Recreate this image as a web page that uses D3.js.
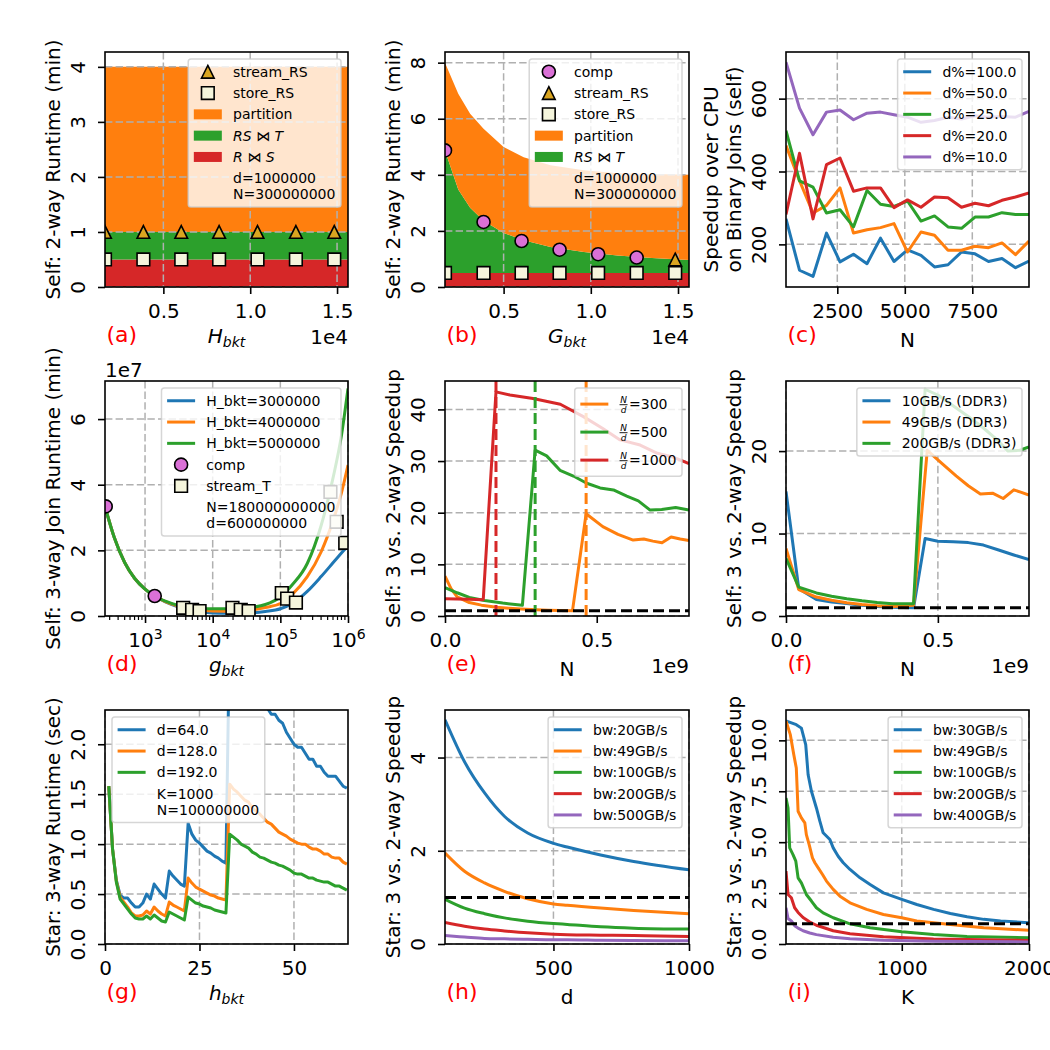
<!DOCTYPE html>
<html lang="en">
<head>
<meta charset="utf-8">
<script src="https://d3js.org/d3.v7.min.js"></script>
<style>
body { margin: 0; background: #fff; overflow: hidden; }
svg { display: block; }
svg text { font-family: "DejaVu Sans", sans-serif; fill: #000; }
</style>
</head>
<body>
<svg id="fig" width="1050" height="1050"></svg>
<script>
// ---------- data ----------
// (a) stacked runtime vs H_bkt
var aX = [1640, 15630];
var aRS = [0.5, 0.5];
var aRST = [0.5, 0.5];
var aPart = [3.0, 3.0];
var markX = [1640, 3850, 6030, 8210, 10420, 12630, 14840];
var aStreamRS = [1.0, 1.0, 1.0, 1.0, 1.0, 1.0, 1.0];
var storeRS = [0.5, 0.5, 0.5, 0.5, 0.5, 0.5, 0.5];

// (b) stacked runtime vs G_bkt
var bX = [1640, 2400, 3080, 3850, 5000, 6150, 7690, 9600, 11530, 13500, 15630];
var bRS = [0.5, 0.5, 0.5, 0.5, 0.5, 0.5, 0.5, 0.5, 0.5, 0.5, 0.5];
var bRST = [4.37, 2.98, 2.33, 1.86, 1.43, 1.17, 0.93, 0.75, 0.62, 0.53, 0.46];
var bPart = [3.13, 3.41, 3.35, 3.28, 3.06, 2.96, 2.91, 2.91, 2.94, 3.0, 3.04];
var bCompX = [1640, 3850, 6030, 8210, 10420, 12630];
var bComp = [4.87, 2.32, 1.64, 1.33, 1.17, 1.05];
var bStreamX = [14840];
var bStreamRS = [0.98];

// (c) speedup over CPU
var cN = [600, 1100, 1600, 2100, 2600, 3100, 3600, 4100, 4600, 5100, 5600, 6100, 6600, 7100, 7600, 8100, 8600, 9100, 9600];
var c100 = [270, 129, 112, 231, 152, 173, 147, 217, 153, 185, 170, 138, 144, 179, 174, 153, 161, 136, 154];
var c50 = [471, 375, 286, 307, 355, 231, 240, 246, 257, 179, 234, 225, 184, 184, 195, 191, 204, 172, 209];
var c25 = [512, 374, 357, 286, 295, 248, 348, 310, 304, 319, 264, 278, 248, 244, 275, 275, 287, 282, 282];
var c20 = [282, 450, 270, 419, 437, 346, 355, 355, 301, 322, 302, 330, 328, 302, 313, 306, 321, 330, 341];
var c10 = [700, 574, 501, 563, 569, 542, 560, 563, 556, 549, 535, 540, 549, 544, 553, 549, 551, 549, 565];
var cLabels = ["d%=100.0", "d%=50.0", "d%=25.0", "d%=20.0", "d%=10.0"];

// (d) 3-way join runtime vs g_bkt (units of 1e7)
var dX = [256, 350, 500, 700, 1000, 1400, 2000, 3000, 4500, 7000, 10000, 15000, 25000, 40000, 60000, 100000, 150000, 250000, 400000, 600000, 800000, 1000000];
var dH3 = [3.34, 2.4, 1.63, 1.15, 0.82, 0.6, 0.43, 0.29, 0.2, 0.12, 0.09, 0.08, 0.085, 0.1, 0.14, 0.22, 0.38, 0.75, 1.2, 1.62, 1.92, 2.15];
var dH4 = [3.34, 2.4, 1.63, 1.15, 0.82, 0.6, 0.44, 0.31, 0.24, 0.18, 0.15, 0.145, 0.15, 0.19, 0.26, 0.38, 0.66, 1.2, 1.95, 2.9, 3.75, 4.6];
var dH5 = [3.34, 2.4, 1.63, 1.15, 0.82, 0.6, 0.45, 0.33, 0.27, 0.23, 0.22, 0.22, 0.23, 0.27, 0.35, 0.58, 0.95, 1.6, 2.75, 4.2, 5.5, 6.93];
var dCompX = [262, 1390];
var dComp = [3.34, 0.61];
var dStreamX = [3660, 4960, 6400, 19600, 26000, 34000, 105000, 126000, 170000, 550000, 680000, 910000];
var dStream = [0.25, 0.19, 0.15, 0.25, 0.19, 0.15, 0.70, 0.53, 0.41, 3.78, 2.87, 2.23];

// (e) self speedup vs N (units of 1e9)
var eX300 = [0, 0.02, 0.04, 0.08, 0.12, 0.17, 0.21, 0.25, 0.3, 0.34, 0.38, 0.42, 0.465, 0.52, 0.57, 0.62, 0.655, 0.685, 0.715, 0.745, 0.775, 0.804];
var e300 = [7.7, 5.3, 3.7, 2.6, 2.1, 1.7, 1.5, 1.35, 1.2, 1.1, 1.05, 1.0, 19.8, 17.3, 15.8, 14.7, 14.9, 14.5, 14.2, 15.3, 14.9, 14.6];
var eX500 = [0, 0.04, 0.08, 0.13, 0.19, 0.255, 0.297, 0.335, 0.379, 0.423, 0.467, 0.511, 0.555, 0.599, 0.637, 0.676, 0.714, 0.76, 0.804];
var e500 = [5.5, 4.5, 3.6, 3.0, 2.5, 2.07, 32.1, 31.0, 28.2, 27.1, 25.7, 24.8, 24.4, 23.2, 22.3, 20.5, 20.6, 21.0, 20.5];
var eX1000 = [0, 0.04, 0.08, 0.126, 0.168, 0.214, 0.29, 0.38, 0.456, 0.52, 0.577, 0.643, 0.70, 0.75, 0.804];
var e1000 = [3.36, 3.3, 3.25, 3.17, 43.4, 42.8, 42.1, 41.0, 38.6, 36.3, 34.1, 33.1, 31.5, 30.8, 29.5];
var eCrit = [0.168, 0.297, 0.465];
var eRatios = ["=300", "=500", "=1000"];

// (f) self speedup vs N for memory bandwidths (units of 1e9)
var fX10 = [0, 0.042, 0.1, 0.15, 0.2, 0.25, 0.3, 0.35, 0.42, 0.458, 0.5, 0.55, 0.6, 0.65, 0.7, 0.75, 0.8];
var f10 = [15.1, 3.3, 2.0, 1.7, 1.5, 1.3, 1.15, 1.05, 1.0, 9.4, 9.07, 9.0, 8.9, 8.6, 8.0, 7.4, 6.84];
var fX49 = [0, 0.042, 0.1, 0.15, 0.2, 0.25, 0.3, 0.35, 0.42, 0.465, 0.513, 0.56, 0.6, 0.64, 0.68, 0.715, 0.75, 0.775, 0.8];
var f49 = [8.2, 3.2, 2.3, 1.9, 1.6, 1.4, 1.25, 1.15, 1.3, 20.1, 18.5, 17.0, 15.8, 14.8, 14.9, 14.25, 15.3, 15.0, 14.65];
var fX200 = [0, 0.042, 0.1, 0.15, 0.2, 0.25, 0.3, 0.35, 0.42, 0.458, 0.5, 0.55, 0.6, 0.65, 0.7, 0.73, 0.77, 0.8];
var f200 = [7.0, 3.5, 2.8, 2.4, 2.1, 1.85, 1.65, 1.5, 1.5, 27.5, 26.8, 25.5, 24.2, 22.8, 21.2, 20.0, 20.1, 20.5];
var fLabels = ["10GB/s (DDR3)", "49GB/s (DDR3)", "200GB/s (DDR3)"];

// (g) star runtime vs h_bkt
var gX = [1, 2, 3, 4, 5, 6, 7, 8, 9, 10, 11, 12, 13, 14, 15, 16, 17, 18, 19, 20, 21, 22, 23, 24, 25, 26, 27, 28, 29, 30, 31, 32,
          33, 34, 35, 36, 37, 38, 39, 40, 41, 42, 43, 44, 45, 46, 47, 48, 49, 50, 51, 52, 53, 54, 55, 56, 57, 58, 59, 60, 61, 62, 63, 64];
var g64 = [1.58, 0.95, 0.64, 0.49, 0.46, 0.46, 0.41, 0.37, 0.37, 0.41, 0.50, 0.45, 0.60, 0.55, 0.50, 0.46, 0.73, 0.68, 0.64, 0.60, 0.58, 1.21, 1.10, 1.04, 1.01, 0.97, 0.93, 0.91, 0.88, 0.86, 0.83, 0.81,
           3.20, 3.10, 3.00, 2.92, 2.84, 2.76, 2.68, 2.60, 2.52, 2.45, 2.36, 2.30, 2.30, 2.24, 2.21, 2.12, 2.06, 2.00, 1.97, 1.97, 1.91, 1.85, 1.85, 1.78, 1.78, 1.72, 1.68, 1.68, 1.68, 1.63, 1.58, 1.56];
var g128 = [1.58, 0.95, 0.63, 0.47, 0.42, 0.37, 0.31, 0.28, 0.28, 0.29, 0.33, 0.30, 0.37, 0.33, 0.30, 0.28, 0.42, 0.39, 0.37, 0.35, 0.33, 0.66, 0.61, 0.57, 0.55, 0.53, 0.51, 0.49, 0.48, 0.46, 0.45, 0.44,
            1.60, 1.55, 1.52, 1.48, 1.44, 1.42, 1.36, 1.33, 1.30, 1.26, 1.22, 1.20, 1.16, 1.12, 1.10, 1.08, 1.05, 1.03, 1.01, 1.00, 1.00, 0.97, 0.95, 0.95, 0.93, 0.90, 0.90, 0.87, 0.86, 0.86, 0.82, 0.80];
var g192 = [1.58, 0.95, 0.62, 0.45, 0.40, 0.35, 0.30, 0.26, 0.25, 0.25, 0.28, 0.25, 0.29, 0.26, 0.23, 0.22, 0.32, 0.30, 0.28, 0.26, 0.24, 0.47, 0.44, 0.41, 0.40, 0.38, 0.37, 0.36, 0.34, 0.33, 0.32, 0.31,
            1.10, 1.07, 1.04, 1.00, 0.98, 0.96, 0.92, 0.90, 0.87, 0.86, 0.84, 0.82, 0.81, 0.79, 0.78, 0.76, 0.74, 0.71, 0.70, 0.70, 0.68, 0.66, 0.66, 0.64, 0.63, 0.62, 0.62, 0.60, 0.58, 0.58, 0.56, 0.54];

// (h) star speedup vs d
var hX = [100, 172, 246, 319, 405, 500, 551, 674, 796, 1000];
var h20 = [4.81, 3.91, 3.24, 2.74, 2.38, 2.16, 2.08, 1.91, 1.77, 1.59];
var h49 = [1.95, 1.56, 1.31, 1.13, 0.97, 0.86, 0.83, 0.77, 0.72, 0.65];
var h100 = [0.96, 0.77, 0.65, 0.56, 0.49, 0.44, 0.42, 0.37, 0.34, 0.32];
var h200 = [0.46, 0.38, 0.32, 0.28, 0.24, 0.21, 0.20, 0.19, 0.18, 0.16];
var h500 = [0.18, 0.15, 0.12, 0.11, 0.10, 0.09, 0.09, 0.08, 0.075, 0.07];
var hLabels = ["bw:20GB/s", "bw:49GB/s", "bw:100GB/s", "bw:200GB/s", "bw:500GB/s"];

// (i) star speedup vs K
var iX30 = [90, 171, 211, 245, 264, 290, 329, 356, 382, 435, 461, 500, 540, 593, 672, 751, 856, 1000, 1118, 1250, 1382, 1513, 1645, 1777, 2000];
var i30 = [10.95, 10.77, 10.6, 9.79, 8.31, 7.5, 6.68, 6.03, 5.46, 5.13, 4.72, 4.31, 3.99, 3.66, 3.25, 2.92, 2.51, 2.19, 1.94, 1.70, 1.50, 1.34, 1.21, 1.13, 1.04];
var iX49 = [90, 124, 151, 171, 185, 211, 238, 250, 272, 298, 317, 343, 377, 408, 461, 514, 593, 724, 856, 1000, 1118, 1382, 1645, 2000];
var i49 = [10.95, 10.28, 9.3, 8.64, 6.52, 6.19, 5.95, 5.37, 4.88, 4.23, 3.99, 3.74, 3.41, 3.09, 2.68, 2.35, 2.02, 1.70, 1.45, 1.29, 1.13, 0.96, 0.80, 0.67];
var iX100 = [90, 106, 119, 145, 167, 185, 211, 250, 290, 329, 382, 461, 593, 751, 1000, 1250, 1513, 2000];
var i100 = [7.17, 6.68, 4.72, 4.39, 4.07, 3.25, 3.0, 2.43, 2.11, 1.78, 1.53, 1.29, 0.99, 0.80, 0.60, 0.47, 0.37, 0.31];
var iXlow = [90, 106, 132, 158, 185, 224, 277, 329, 461, 593, 856, 1250, 2000];
var i200 = [3.58, 2.43, 2.27, 1.78, 1.55, 1.3, 1.08, 0.92, 0.65, 0.5, 0.36, 0.25, 0.17];
var i400 = [1.78, 1.25, 1.13, 0.9, 0.78, 0.65, 0.54, 0.46, 0.33, 0.26, 0.19, 0.14, 0.10];
var iLabels = ["bw:30GB/s", "bw:49GB/s", "bw:100GB/s", "bw:200GB/s", "bw:400GB/s"];

var breakEven = 1;

// ---------- layout / style ----------
var colX = [[105, 348], [445, 689], [786, 1029]];
var rowY = [[52, 287], [381, 616], [710, 944]];
var C = {blue: "#1f77b4", orange: "#ff7f0e", green: "#2ca02c", red: "#d62728", purple: "#9467bd"};
var svg = d3.select("#fig");

// matplotlib style "^" marker
var mplTriangle = {draw: function(ctx, size) {
  var r = Math.sqrt(size) / 2;
  ctx.moveTo(0, -r); ctx.lineTo(r, r); ctx.lineTo(-r, r); ctx.closePath();
}};

function marker(sel, type, cx, cy) {
  var p = sel.append("path").attr("transform", "translate(" + cx + "," + cy + ")")
    .attr("stroke", "#000").attr("stroke-width", 1.6);
  if (type == "circle") p.attr("d", d3.symbol(d3.symbolCircle, 133)()).attr("fill", "#da70d6");
  if (type == "square") p.attr("d", d3.symbol(d3.symbolSquare, 160)()).attr("fill", "#f5f5dc");
  if (type == "triangle") p.attr("d", d3.symbol(mplTriangle, 160)()).attr("fill", "#daa520");
  return p;
}

function rich(t, segs, size) {
  if (typeof segs == "string") { t.text(segs); return; }
  segs.forEach(function(s) {
    var ts = t.append("tspan").text(s.t);
    if (s.it) ts.attr("font-style", "italic");
    if (s.sub) ts.attr("font-size", size * 0.7).attr("dy", size * 0.22);
  });
}

function axes(col, row, x, y, o) {
  var x0 = colX[col][0], x1 = colX[col][1], y0 = rowY[row][0], y1 = rowY[row][1];
  x.range([x0, x1]); y.range([y1, y0]);
  var g = svg.append("g");
  var id = "clip" + col + row;
  g.append("clipPath").attr("id", id).append("rect")
    .attr("x", x0).attr("y", y0).attr("width", x1 - x0).attr("height", y1 - y0);
  var under = g.append("g").attr("clip-path", "url(#" + id + ")");
  var grid = g.append("g").attr("stroke", "#b0b0b0").attr("stroke-width", 1.5).attr("stroke-dasharray", "7.4,3.2");
  if (o.gridX !== false) o.xTicks.forEach(function(v) {
    grid.append("line").attr("x1", x(v)).attr("x2", x(v)).attr("y1", y0).attr("y2", y1);
  });
  o.yTicks.forEach(function(v) {
    grid.append("line").attr("x1", x0).attr("x2", x1).attr("y1", y(v)).attr("y2", y(v));
  });
  var plot = g.append("g").attr("clip-path", "url(#" + id + ")");
  var frame = g.append("g");

  // x axis
  var xa = frame.append("g").attr("transform", "translate(0," + y1 + ")")
    .call(d3.axisBottom(x).tickValues(o.xTicks).tickFormat(o.xFmt || function(d) { return d; }).tickSize(7).tickSizeOuter(0));
  xa.attr("font-size", 20).attr("font-family", "DejaVu Sans, sans-serif").attr("color", "#000");
  xa.select(".domain").remove();
  xa.selectAll("line").attr("stroke-width", 1.6);
  xa.selectAll("text").attr("y", 31).attr("dy", null);
  if (o.logX) {
    xa.selectAll("text").each(function(d) {
      var t = d3.select(this).text("10");
      t.append("tspan").attr("dy", -8).attr("font-size", 14).text(Math.round(Math.log10(d)));
    });
    var lo = x.domain()[0], hi = x.domain()[1];
    for (var k = 2; k <= 6; k++) for (var m = 2; m <= 9; m++) {
      var v = m * Math.pow(10, k);
      if (v > lo && v < hi) frame.append("line").attr("x1", x(v)).attr("x2", x(v)).attr("y1", y1).attr("y2", y1 + 4)
        .attr("stroke", "#000").attr("stroke-width", 1.2);
    }
  }
  // y axis
  var ya = frame.append("g").attr("transform", "translate(" + x0 + ",0)")
    .call(d3.axisLeft(y).tickValues(o.yTicks).tickFormat(o.yFmt || function(d) { return d; }).tickSize(7).tickSizeOuter(0));
  ya.attr("font-size", 20).attr("font-family", "DejaVu Sans, sans-serif").attr("color", "#000");
  ya.select(".domain").remove();
  ya.selectAll("line").attr("stroke-width", 1.6);
  ya.selectAll("text").attr("x", 0).attr("y", -20).attr("dy", null)
    .attr("text-anchor", "middle").attr("transform", "rotate(-90)");
  // spines
  frame.append("rect").attr("x", x0).attr("y", y0).attr("width", x1 - x0).attr("height", y1 - y0)
    .attr("fill", "none").attr("stroke", "#000").attr("stroke-width", 1.6);
  // y label
  var cyMid = (y0 + y1) / 2;
  if (typeof o.yLabel == "string") {
    frame.append("text").attr("transform", "translate(" + (x0 - 45) + "," + cyMid + ") rotate(-90)")
      .attr("text-anchor", "middle").attr("font-size", 20).text(o.yLabel);
  } else {
    var ts = o.yLabel.map(function(s, k) {
      return frame.append("text").attr("font-size", 20).attr("text-anchor", "start").text(s)
        .attr("data-k", k);
    });
    var maxW = d3.max(ts, function(t) { return t.node().getComputedTextLength(); });
    ts.forEach(function(t, k) {
      var bx = x0 - 45 - (ts.length - 1 - k) * 23;
      t.attr("transform", "translate(" + bx + "," + (cyMid + maxW / 2) + ") rotate(-90)");
    });
  }
  // x label
  var xl = frame.append("text").attr("x", (x0 + x1) / 2).attr("y", y1 + (typeof o.xLabel == "string" ? 60 : 56))
    .attr("text-anchor", "middle").attr("font-size", 20);
  rich(xl, o.xLabel, 20);
  // panel tag
  frame.append("text").attr("x", x0 + 1.5).attr("y", y1 + 55).attr("font-size", 22)
    .style("fill", "#ff0000").text(o.tag);
  if (o.xOffset) frame.append("text").attr("x", x1).attr("y", y1 + 57).attr("text-anchor", "end")
    .attr("font-size", 20).text(o.xOffset);
  if (o.yOffset) frame.append("text").attr("x", x0).attr("y", y0 - 4)
    .attr("font-size", 20).text(o.yOffset);
  return {g: g, under: under, plot: plot, x: x, y: y, x0: x0, x1: x1, y0: y0, y1: y1};
}

function drawLine(ax, xs, ys, color, curve) {
  ax.plot.append("path")
    .attr("d", d3.line().x(function(d, i) { return ax.x(xs[i]); }).y(function(d) { return ax.y(d); })
      .curve(curve || d3.curveLinear)(ys))
    .attr("fill", "none").attr("stroke", color).attr("stroke-width", 3)
    .attr("stroke-linejoin", "round");
}

function drawMarkers(ax, xs, ys, type) {
  ys.forEach(function(v, i) { marker(ax.plot, type, ax.x(xs[i]), ax.y(v)); });
}

function refLine(ax) {
  var dom = ax.x.domain();
  ax.plot.append("line").attr("x1", ax.x(dom[0])).attr("x2", ax.x(dom[1]))
    .attr("y1", ax.y(breakEven)).attr("y2", ax.y(breakEven))
    .attr("stroke", "#000").attr("stroke-width", 3).attr("stroke-dasharray", "11,5");
}

function drawStack(ax, xs, layers, colors) {
  var rows = xs.map(function(x, i) {
    var r = {x: x};
    layers.forEach(function(l, k) { r["k" + k] = l[i]; });
    return r;
  });
  var keys = layers.map(function(l, k) { return "k" + k; });
  var series = d3.stack().keys(keys)(rows);
  var area = d3.area().x(function(d) { return ax.x(d.data.x); })
    .y0(function(d) { return ax.y(d[0]); }).y1(function(d) { return ax.y(d[1]); });
  series.forEach(function(s, k) {
    ax.under.append("path").attr("d", area(s)).attr("fill", colors[k]);
  });
}

function legend(ax, entries, corner) {
  var fs = 14, pad = 5.6, hl = 28, htp = 11.2, sp = 7, lh = 16;
  var lg = ax.g.append("g");
  var box = lg.append("rect");
  var body = lg.append("g");
  var yc = pad, maxW = 0;
  var tx = pad + hl + htp;
  entries.forEach(function(e, i) {
    var lines = e.lines || [e.label];
    var h = e.frac ? 21 : 14.3 + (lines.length - 1) * lh;
    var cy = yc + h / 2;
    if (e.kind == "line") body.append("line").attr("x1", pad).attr("x2", pad + hl).attr("y1", cy).attr("y2", cy)
      .attr("stroke", e.color).attr("stroke-width", 3);
    else if (e.kind == "patch") body.append("rect").attr("x", pad).attr("y", cy - 5).attr("width", hl).attr("height", 10)
      .attr("fill", e.color);
    else if (e.kind == "marker") marker(body, e.marker, pad + hl / 2, cy);
    var w = 0;
    if (e.frac) {
      var bar = cy + 0.6;
      body.append("text").attr("x", tx + 4).attr("y", bar - 2).attr("font-size", 9).attr("font-style", "italic")
        .attr("text-anchor", "middle").text(e.frac[0]);
      body.append("line").attr("x1", tx).attr("x2", tx + 8).attr("y1", bar).attr("y2", bar)
        .attr("stroke", "#000").attr("stroke-width", 0.9);
      body.append("text").attr("x", tx + 4).attr("y", bar + 8).attr("font-size", 9).attr("font-style", "italic")
        .attr("text-anchor", "middle").text(e.frac[1]);
      var t = body.append("text").attr("x", tx + 9.5).attr("y", cy + 5).attr("font-size", fs).text(e.label);
      w = 9.5 + t.node().getComputedTextLength();
    } else {
      lines.forEach(function(ln, k) {
        var t2 = body.append("text").attr("x", tx).attr("y", yc + 12.15 + k * lh).attr("font-size", fs);
        rich(t2, ln, fs);
        w = Math.max(w, t2.node().getComputedTextLength());
      });
    }
    maxW = Math.max(maxW, w);
    yc += h + (i < entries.length - 1 ? sp : 0);
  });
  var bw = tx + maxW + pad, bh = yc + pad;
  var bx = corner == "left" ? ax.x0 + 7 : ax.x1 - 7 - bw;
  var by = ax.y0 + 7;
  box.attr("width", bw).attr("height", bh).attr("rx", 2.8)
    .attr("fill", "#fff").attr("fill-opacity", 0.8)
    .attr("stroke", "#cccccc").attr("stroke-opacity", 0.8).attr("stroke-width", 1.5);
  lg.attr("transform", "translate(" + bx + "," + by + ")");
}

var fmt1e4 = function(d) { return (d / 1e4).toFixed(1); };
var fmt1 = function(d) { return d.toFixed(1); };
var rsT = [{t: "RS", it: 1}, {t: " \u22C8 "}, {t: "T", it: 1}];
var rS = [{t: "R", it: 1}, {t: " \u22C8 "}, {t: "S", it: 1}];

// ---------- (a) ----------
var A = axes(0, 0, d3.scaleLinear().domain([1640, 15630]), d3.scaleLinear().domain([0, 4.27]), {
  xTicks: [5000, 10000, 15000], xFmt: fmt1e4, yTicks: [0, 1, 2, 3, 4],
  yLabel: "Self: 2-way Runtime (min)", xLabel: [{t: "H", it: 1}, {t: "bkt", it: 1, sub: 1}], tag: "(a)", xOffset: "1e4"});
drawStack(A, aX, [aRS, aRST, aPart], [C.red, C.green, C.orange]);
drawMarkers(A, markX, aStreamRS, "triangle");
drawMarkers(A, markX, storeRS, "square");
legend(A, [
  {kind: "marker", marker: "triangle", label: "stream_RS"},
  {kind: "marker", marker: "square", label: "store_RS"},
  {kind: "patch", color: C.orange, label: "partition"},
  {kind: "patch", color: C.green, label: rsT},
  {kind: "patch", color: C.red, label: rS},
  {kind: "none", lines: ["d=1000000", "N=300000000"]}
]);

// ---------- (b) ----------
var B = axes(1, 0, d3.scaleLinear().domain([1640, 15630]), d3.scaleLinear().domain([0, 8.38]), {
  xTicks: [5000, 10000, 15000], xFmt: fmt1e4, yTicks: [0, 2, 4, 6, 8],
  yLabel: "Self: 2-way Runtime (min)", xLabel: [{t: "G", it: 1}, {t: "bkt", it: 1, sub: 1}], tag: "(b)", xOffset: "1e4"});
drawStack(B, bX, [bRS, bRST, bPart], [C.red, C.green, C.orange]);
drawMarkers(B, bCompX, bComp, "circle");
drawMarkers(B, bStreamX, bStreamRS, "triangle");
drawMarkers(B, markX, storeRS, "square");
legend(B, [
  {kind: "marker", marker: "circle", label: "comp"},
  {kind: "marker", marker: "triangle", label: "stream_RS"},
  {kind: "marker", marker: "square", label: "store_RS"},
  {kind: "patch", color: C.orange, label: "partition"},
  {kind: "patch", color: C.green, label: rsT},
  {kind: "none", lines: ["d=1000000", "N=300000000"]}
]);

// ---------- (c) ----------
var Cc = axes(2, 0, d3.scaleLinear().domain([600, 9600]), d3.scaleLinear().domain([83, 728]), {
  xTicks: [2500, 5000, 7500], yTicks: [200, 400, 600],
  yLabel: ["Speedup over CPU", "on Binary Joins (self)"], xLabel: "N", tag: "(c)"});
var cSeries = [c100, c50, c25, c20, c10];
var cCols = [C.blue, C.orange, C.green, C.red, C.purple];
cSeries.forEach(function(s, k) { drawLine(Cc, cN, s, cCols[k]); });
legend(Cc, cLabels.map(function(l, k) { return {kind: "line", color: cCols[k], label: l}; }));

// ---------- (d) ----------
var D = axes(0, 1, d3.scaleLog().domain([256, 1e6]), d3.scaleLinear().domain([0, 7.16]), {
  xTicks: [1e3, 1e4, 1e5, 1e6], logX: true, yTicks: [0, 2, 4, 6],
  yLabel: "Self: 3-way Join Runtime (min)", xLabel: [{t: "g", it: 1}, {t: "bkt", it: 1, sub: 1}], tag: "(d)", yOffset: "1e7"});
drawLine(D, dX, dH3, C.blue, d3.curveMonotoneX);
drawLine(D, dX, dH4, C.orange, d3.curveMonotoneX);
drawLine(D, dX, dH5, C.green, d3.curveMonotoneX);
drawMarkers(D, dCompX, dComp, "circle");
drawMarkers(D, dStreamX, dStream, "square");
legend(D, [
  {kind: "line", color: C.blue, label: "H_bkt=3000000"},
  {kind: "line", color: C.orange, label: "H_bkt=4000000"},
  {kind: "line", color: C.green, label: "H_bkt=5000000"},
  {kind: "marker", marker: "circle", label: "comp"},
  {kind: "marker", marker: "square", label: "stream_T"},
  {kind: "none", lines: ["N=180000000000", "d=600000000"]}
]);

// ---------- (e) ----------
var E = axes(1, 1, d3.scaleLinear().domain([0, 0.804]), d3.scaleLinear().domain([0, 45.5]), {
  xTicks: [0, 0.5], xFmt: fmt1, yTicks: [0, 10, 20, 30, 40], gridX: false,
  yLabel: "Self: 3 vs. 2-way Speedup", xLabel: "N", tag: "(e)", xOffset: "1e9"});
drawLine(E, eX300, e300, C.orange);
drawLine(E, eX500, e500, C.green);
drawLine(E, eX1000, e1000, C.red);
var eCritCols = [C.red, C.green, C.orange];
eCrit.forEach(function(v, k) {
  E.plot.append("line").attr("x1", E.x(v)).attr("x2", E.x(v)).attr("y1", E.y(0)).attr("y2", E.y(E.y.domain()[1]))
    .attr("stroke", eCritCols[k]).attr("stroke-width", 3).attr("stroke-dasharray", "11,5");
});
refLine(E);
legend(E, [
  {kind: "line", color: C.orange, frac: ["N", "d"], label: eRatios[0]},
  {kind: "line", color: C.green, frac: ["N", "d"], label: eRatios[1]},
  {kind: "line", color: C.red, frac: ["N", "d"], label: eRatios[2]}
]);

// ---------- (f) ----------
var F = axes(2, 1, d3.scaleLinear().domain([0, 0.8]), d3.scaleLinear().domain([0, 28.5]), {
  xTicks: [0, 0.5], xFmt: fmt1, yTicks: [0, 10, 20],
  yLabel: "Self: 3 vs. 2-way Speedup", xLabel: "N", tag: "(f)", xOffset: "1e9"});
drawLine(F, fX10, f10, C.blue);
drawLine(F, fX49, f49, C.orange);
drawLine(F, fX200, f200, C.green);
refLine(F);
legend(F, fLabels.map(function(l, k) { return {kind: "line", color: [C.blue, C.orange, C.green][k], label: l}; }));

// ---------- (g) ----------
var G = axes(0, 2, d3.scaleLinear().domain([0, 64.3]), d3.scaleLinear().domain([0, 2.343]), {
  xTicks: [0, 25, 50], yTicks: [0, 0.5, 1.0, 1.5, 2.0], yFmt: fmt1,
  yLabel: "Star: 3-way Runtime (sec)", xLabel: [{t: "h", it: 1}, {t: "bkt", it: 1, sub: 1}], tag: "(g)"});
drawLine(G, gX, g64, C.blue);
drawLine(G, gX, g128, C.orange);
drawLine(G, gX, g192, C.green);
legend(G, [
  {kind: "line", color: C.blue, label: "d=64.0"},
  {kind: "line", color: C.orange, label: "d=128.0"},
  {kind: "line", color: C.green, label: "d=192.0"},
  {kind: "none", lines: ["K=1000", "N=100000000"]}
], "left");

// ---------- (h) ----------
var H = axes(1, 2, d3.scaleLinear().domain([100, 1000]), d3.scaleLinear().domain([0, 5.02]), {
  xTicks: [500, 1000], yTicks: [0, 2, 4],
  yLabel: "Star: 3 vs. 2-way Speedup", xLabel: "d", tag: "(h)"});
var hSeries = [h20, h49, h100, h200, h500];
hSeries.forEach(function(s, k) { drawLine(H, hX, s, cCols[k], d3.curveMonotoneX); });
refLine(H);
legend(H, hLabels.map(function(l, k) { return {kind: "line", color: cCols[k], label: l}; }));

// ---------- (i) ----------
var I = axes(2, 2, d3.scaleLinear().domain([90, 2000]), d3.scaleLinear().domain([0, 11.49]), {
  xTicks: [1000, 2000], yTicks: [0, 2.5, 5.0, 7.5, 10.0], yFmt: fmt1,
  yLabel: "Star: 3 vs. 2-way Speedup", xLabel: "K", tag: "(i)"});
drawLine(I, iX30, i30, C.blue);
drawLine(I, iX49, i49, C.orange);
drawLine(I, iX100, i100, C.green);
drawLine(I, iXlow, i200, C.red);
drawLine(I, iXlow, i400, C.purple);
refLine(I);
legend(I, iLabels.map(function(l, k) { return {kind: "line", color: cCols[k], label: l}; }));
</script>
</body>
</html>
